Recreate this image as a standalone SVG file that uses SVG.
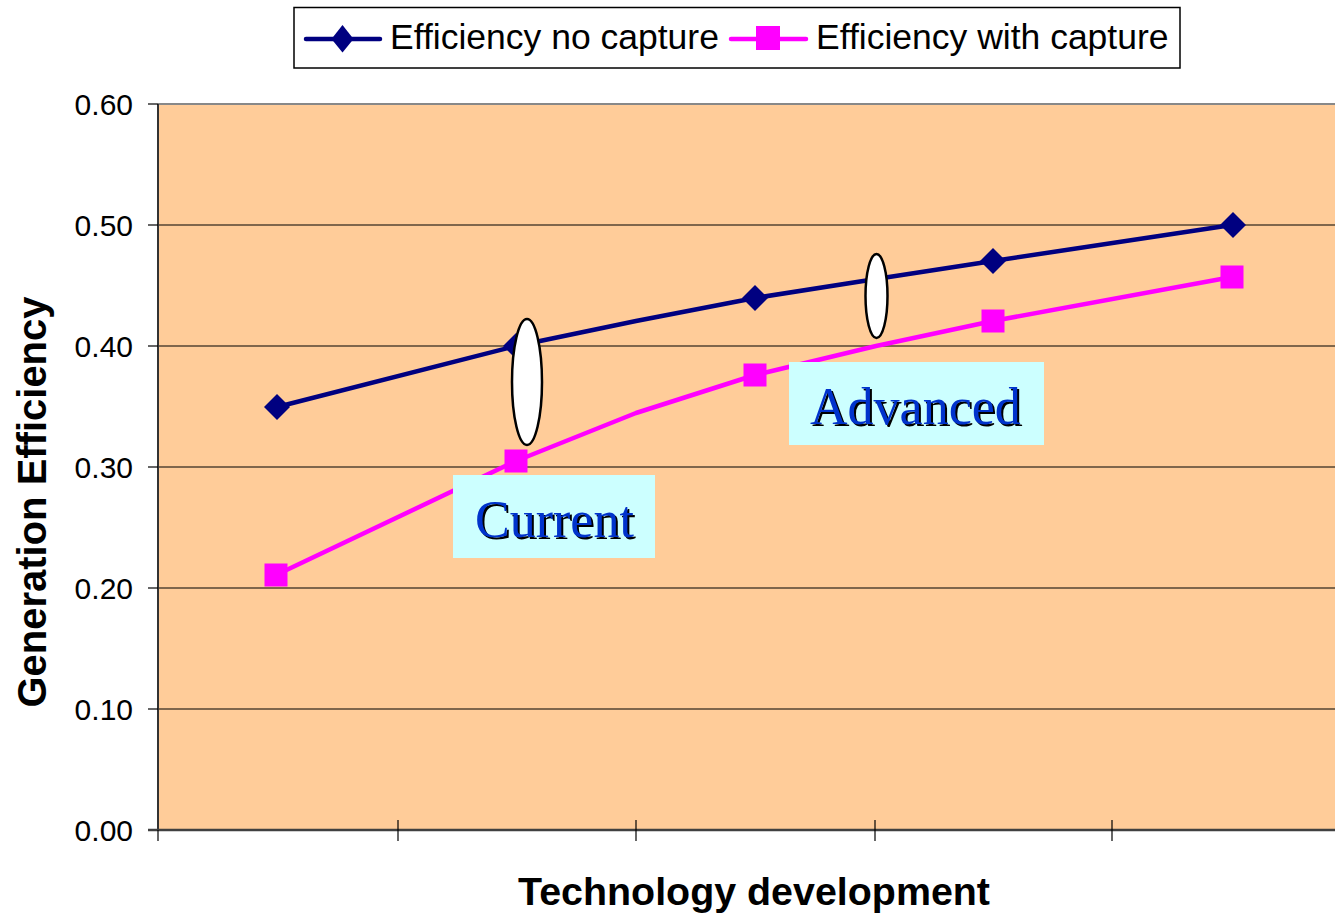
<svg xmlns="http://www.w3.org/2000/svg" width="1335" height="915" viewBox="0 0 1335 915">
<style>
.ax{font-family:"Liberation Sans",Arial,sans-serif;font-size:30px;fill:#000;text-anchor:end}
.lg{font-family:"Liberation Sans",Arial,sans-serif;font-size:35.5px;fill:#000}
.ttl{font-family:"Liberation Sans",Arial,sans-serif;font-weight:bold;fill:#000}
.grid{stroke:#000;stroke-width:1.2}
.tick{stroke:#000;stroke-width:1.2}
.s1{fill:none;stroke:#000080;stroke-width:4.5;stroke-linejoin:round;stroke-linecap:round}
.s2{fill:none;stroke:#FF00FF;stroke-width:4.5;stroke-linejoin:round;stroke-linecap:round}
.lab{font-family:"Liberation Serif","Times New Roman",serif;font-size:52px}
.box{fill:#CCFFFF}
.ell{fill:#fff;stroke:#000;stroke-width:2.5}
</style>
<defs>
<path id="dia" d="M0,-13 L13,0 L0,13 L-13,0 Z" fill="#000080"/>
<rect id="sq" x="-11.5" y="-11.5" width="23" height="23" fill="#FF00FF"/>
</defs>
<rect width="1335" height="915" fill="#fff"/>
<g id="plot">
<rect x="158" y="104" width="1177" height="726" fill="#FFCC99"/>
<line x1="158" y1="104" x2="1335" y2="104" stroke="#888" stroke-width="2"/>
<g id="gridlines">
<line class="grid" x1="158" y1="225" x2="1335" y2="225"/>
<line class="grid" x1="158" y1="346" x2="1335" y2="346"/>
<line class="grid" x1="158" y1="467" x2="1335" y2="467"/>
<line class="grid" x1="158" y1="588" x2="1335" y2="588"/>
<line class="grid" x1="158" y1="709" x2="1335" y2="709"/>
</g>
</g>
<g id="axes">
<line x1="158" y1="104" x2="158" y2="831" stroke="#333" stroke-width="2"/>
<line x1="148" y1="830" x2="1335" y2="830" stroke="#404040" stroke-width="2.5"/>
<line class="tick" x1="148" y1="104" x2="158" y2="104"/>
<line class="tick" x1="148" y1="225" x2="158" y2="225"/>
<line class="tick" x1="148" y1="346" x2="158" y2="346"/>
<line class="tick" x1="148" y1="467" x2="158" y2="467"/>
<line class="tick" x1="148" y1="588" x2="158" y2="588"/>
<line class="tick" x1="148" y1="709" x2="158" y2="709"/>
<line class="tick" x1="158" y1="830" x2="158" y2="841"/>
<line class="tick" x1="398" y1="820" x2="398" y2="841"/>
<line class="tick" x1="636" y1="820" x2="636" y2="841"/>
<line class="tick" x1="875" y1="820" x2="875" y2="841"/>
<line class="tick" x1="1112" y1="820" x2="1112" y2="841"/>
<text class="ax" x="133" y="115">0.60</text>
<text class="ax" x="133" y="236">0.50</text>
<text class="ax" x="133" y="357">0.40</text>
<text class="ax" x="133" y="478">0.30</text>
<text class="ax" x="133" y="599">0.20</text>
<text class="ax" x="133" y="720">0.10</text>
<text class="ax" x="133" y="841">0.00</text>
<text class="ttl" font-size="39" x="754" y="905" text-anchor="middle" textLength="472" lengthAdjust="spacingAndGlyphs">Technology development</text>
<text class="ttl" font-size="40" transform="translate(46,502) rotate(-90)" text-anchor="middle" textLength="411" lengthAdjust="spacingAndGlyphs">Generation Efficiency</text>
</g>
<g id="connectors">
<polyline class="s1" points="277,407 516,346 636,321 755,298 876,279 993,261 1232,225"/>
<polyline class="s2" points="276,575 516,461 636,413 755,375 876,346 993,321 1232,277"/>
</g>
<g id="markers-no-capture">
<use href="#dia" x="277" y="407"/>
<use href="#dia" x="516" y="346"/>
<use href="#dia" x="755" y="298"/>
<use href="#dia" x="993" y="261"/>
<use href="#dia" x="1233" y="225"/>
</g>
<g id="markers-with-capture">
<use href="#sq" x="276" y="575"/>
<use href="#sq" x="516" y="461"/>
<use href="#sq" x="755" y="375"/>
<use href="#sq" x="993" y="321"/>
<use href="#sq" x="1232" y="277"/>
</g>
<g id="ellipse-current"><ellipse class="ell" cx="527" cy="382" rx="15" ry="63"/></g>
<g id="ellipse-advanced"><ellipse class="ell" cx="876.5" cy="296" rx="11" ry="42"/></g>
<g id="label-current">
<rect class="box" x="453" y="475" width="202" height="83"/>
<text class="lab" x="477" y="539" fill="#000">Current</text>
<text class="lab" x="475" y="537" fill="#0033CC">Current</text>
</g>
<g id="label-advanced">
<rect class="box" x="789" y="362" width="255" height="83"/>
<text class="lab" x="812" y="426" fill="#000">Advanced</text>
<text class="lab" x="810" y="424" fill="#0033CC">Advanced</text>
</g>
<g id="legend">
<rect x="294" y="7.5" width="886" height="60.5" fill="#fff" stroke="#000" stroke-width="1.5"/>
<line x1="306" y1="39" x2="380" y2="39" stroke="#000080" stroke-width="4.5" stroke-linecap="round"/>
<path d="M342.5,25 L353.5,39 L342.5,52.5 L331.5,39 Z" fill="#000080"/>
<text class="lg" x="390" y="49">Efficiency no capture</text>
<line x1="731" y1="39" x2="806" y2="39" stroke="#FF00FF" stroke-width="4.5" stroke-linecap="round"/>
<rect x="756" y="26" width="24" height="24" fill="#FF00FF"/>
<text class="lg" x="816" y="49">Efficiency with capture</text>
</g>
</svg>
